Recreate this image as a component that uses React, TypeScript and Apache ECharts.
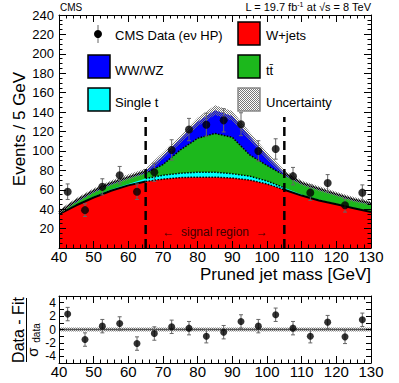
import React, { useEffect, useRef } from "react";
import * as echarts from "echarts";

// ---------- data ----------
const massPoints = [40, 45, 50, 55, 60, 65, 70, 75, 80, 85, 90, 95, 100, 105, 110, 115, 120, 125, 130];
const wjets = [35, 44, 52, 59, 64.5, 68.5, 71, 72.5, 73, 73, 72, 70, 66, 60, 54, 49, 45, 41, 37];
const singleTop = [0.5, 0.8, 1, 1.2, 1.5, 3, 4, 4.5, 5, 5, 4.5, 4, 3, 2, 1, 0.8, 0.6, 0.5, 0.4];
const ttbar = [1, 2.7, 4.5, 5.3, 6, 5.5, 11, 24, 35, 40, 37.5, 22, 16, 13, 11, 10.2, 8.9, 7.5, 7.6];
const diboson = [0.5, 1.5, 1.5, 1.5, 1, 2, 9, 11, 17, 24, 22, 19, 10, 2, 1, 1, 1, 1, 1];
const uncertainty = [2.5, 2.5, 2.5, 2.5, 3, 3, 3.5, 4, 4.5, 5, 5, 4.5, 4, 3, 2.5, 2.5, 2.5, 2.5, 2.5];

const binCenters = [42.5, 47.5, 52.5, 57.5, 62.5, 67.5, 72.5, 77.5, 82.5, 87.5, 92.5, 97.5, 102.5, 107.5, 112.5, 117.5, 122.5, 127.5];
const dataCounts = [58, 39, 63, 75, 58, 78, 101, 122, 127, 131.5, 127.5, 100, 102, 74, 57, 67, 44, 57];
const dataErrors = [8, 6.5, 8.3, 9, 8, 9.3, 10.5, 11.5, 11.8, 12, 11.8, 10.5, 10.5, 9, 8, 8.6, 7, 8];
const pulls = [2.3, -1.5, 0.5, 0.9, -2.1, -0.6, 0.4, 0.2, -1.0, -0.4, 1.2, 0.5, 2.2, 0.2, -1.0, 1.1, -1.1, 1.45];
const pullErrors = [1, 1, 1, 1, 1, 1, 1, 1, 1, 1, 1, 1, 1, 1, 1, 1, 1, 1];
const pullBand = 0.3;

const signalWindow = [65, 105];
const signalLineTop = 135;

const xRange = [40, 130];
const yRangeTop = [0, 240];
const yRangePull = [-5, 5];

// ---------- helpers ----------
const FONT = "'Liberation Sans', Arial, Helvetica, sans-serif";
const RED = "#ff0000";
const GREEN = "#1cb81c";
const BLUE = "#0000ff";
const CYAN = "#00ffff";

function makeHatch(): HTMLCanvasElement {
  const c = document.createElement("canvas");
  c.width = 4;
  c.height = 4;
  const ctx = c.getContext("2d")!;
  ctx.fillStyle = "#777";
  for (let x = 0; x < 4; x++) {
    for (let y = 0; y < 4; y++) {
      if ((x + y) % 2 === 0) ctx.fillRect(x, y, 1, 1);
    }
  }
  return c;
}

export default function App() {
  const ref = useRef<HTMLDivElement>(null);

  useEffect(() => {
    if (!ref.current) return;
    const chart = echarts.init(ref.current, undefined, { renderer: "svg" });
    const hatch = { image: makeHatch(), repeat: "repeat" } as any;

    const redTop = wjets.slice();
    const cyanTop = redTop.map((v, i) => v + singleTop[i]);
    const greenTop = cyanTop.map((v, i) => v + ttbar[i]);
    const total = greenTop.map((v, i) => v + diboson[i]);
    const pts = (arr: number[]) => massPoints.map((x, i) => [x, arr[i]]);
    const inSide = (lo: number, hi: number, arr: number[]) =>
      massPoints.map((x, i) => [x, arr[i]]).filter((p) => p[0] >= lo && p[0] <= hi);

    const areaSeries = (name: string, arr: number[], color: string, z: number) => ({
      type: "line",
      name,
      z,
      xAxisIndex: 0,
      yAxisIndex: 0,
      data: pts(arr),
      showSymbol: false,
      symbol: "none",
      lineStyle: { width: 0 },
      areaStyle: { color, opacity: 1 },
      silent: true,
    });
    const lineSeries = (data: number[][], type: any, width: number, xi = 0, color = "#000", z = 6) => ({
      type: "line",
      z,
      xAxisIndex: xi,
      yAxisIndex: xi,
      data,
      showSymbol: false,
      symbol: "none",
      lineStyle: { color, width, type },
      silent: true,
    });

    const errorBarSeries = (xs: number[], ys: number[], es: number[], gi: number) => ({
      type: "custom",
      z: 9,
      xAxisIndex: gi,
      yAxisIndex: gi,
      data: xs.map((x, i) => [x, ys[i], es[i]]),
      encode: { x: 0, y: 1 },
      silent: true,
      renderItem: (params: any, api: any) => {
        const x = api.value(0);
        const y = api.value(1);
        const e = api.value(2);
        const hi = api.coord([x, y + e]);
        const lo = api.coord([x, y - e]);
        const st = { stroke: "#666", lineWidth: 1 };
        return {
          type: "group",
          children: [
            { type: "line", shape: { x1: hi[0], y1: hi[1], x2: lo[0], y2: lo[1] }, style: st },
            { type: "line", shape: { x1: hi[0] - 2, y1: hi[1], x2: hi[0] + 2, y2: hi[1] }, style: st },
            { type: "line", shape: { x1: lo[0] - 2, y1: lo[1], x2: lo[0] + 2, y2: lo[1] }, style: st },
          ],
        };
      },
    });

    const bandSeries = (upper: number[][], lower: number[][], gi: number) => ({
      type: "custom",
      z: 7,
      xAxisIndex: gi,
      yAxisIndex: gi,
      data: [[upper[0][0], upper[0][1]]],
      encode: { x: 0, y: 1 },
      silent: true,
      renderItem: (params: any, api: any) => {
        const points = upper.map((p) => api.coord(p)).concat(lower.slice().reverse().map((p) => api.coord(p)));
        return { type: "polygon", shape: { points }, style: { fill: hatch, stroke: "none" } };
      },
    });

    const xAxisBase = (gi: number, position: string, showLabel: boolean) => ({
      type: "value",
      gridIndex: gi,
      position,
      min: xRange[0],
      max: xRange[1],
      interval: 10,
      z: 20,
      axisLine: { show: true, onZero: false, lineStyle: { color: "#000", width: 1 } },
      axisTick: { show: true, inside: true, length: 7, lineStyle: { color: "#000" } },
      minorTick: { show: true, splitNumber: 5, length: 3.5, lineStyle: { color: "#000" } },
      splitLine: { show: false },
      axisLabel: { show: showLabel, color: "#000", fontSize: 15, fontFamily: FONT, margin: 1 },
    });
    const yAxisTop = (position: string, showLabel: boolean) => ({
      type: "value",
      gridIndex: 0,
      position,
      min: yRangeTop[0],
      max: yRangeTop[1],
      interval: 20,
      z: 20,
      axisLine: { show: true, onZero: false, lineStyle: { color: "#000", width: 1 } },
      axisTick: { show: true, inside: true, length: 7, lineStyle: { color: "#000" } },
      minorTick: { show: true, splitNumber: 4, length: 3.5, lineStyle: { color: "#000" } },
      splitLine: { show: false },
      axisLabel: {
        show: showLabel,
        color: "#000",
        fontSize: 13,
        fontFamily: FONT,
        margin: 5,
        formatter: (v: number) => (v === 0 ? "" : String(v)),
      },
    });
    const yAxisPull = (position: string, showLabel: boolean) => ({
      type: "value",
      gridIndex: 1,
      position,
      min: yRangePull[0],
      max: yRangePull[1],
      interval: 1,
      z: 20,
      axisLine: { show: true, onZero: false, lineStyle: { color: "#000", width: 1 } },
      axisTick: { show: true, inside: true, length: 5, lineStyle: { color: "#000" } },
      splitLine: { show: false },
      axisLabel: {
        show: showLabel,
        color: "#000",
        fontSize: 12,
        fontFamily: FONT,
        margin: 3,
        formatter: (v: number) => (Math.abs(v) < 5 && v % 2 === 0 ? String(v) : ""),
      },
    });

    const legendBox = (x: number, y: number, fill: any, stroke = "#000") => ({
      type: "rect",
      shape: { x, y, width: 22, height: 23 },
      style: { fill, stroke, lineWidth: 1.5 },
    });
    const legendText = (x: number, y: number, text: string) => ({
      type: "text",
      x,
      y,
      style: { text, fill: "#000", font: `13px ${FONT}`, textAlign: "left", textVerticalAlign: "middle" },
    });

    const option: any = {
      animation: false,
      backgroundColor: "#fff",
      grid: [
        { left: 59, top: 15, width: 312, height: 233 },
        { left: 59, top: 296, width: 312, height: 67 },
      ],
      xAxis: [
        xAxisBase(0, "bottom", true),
        xAxisBase(0, "top", false),
        xAxisBase(1, "bottom", true),
        xAxisBase(1, "top", false),
      ],
      yAxis: [yAxisTop("left", true), yAxisTop("right", false), yAxisPull("left", true), yAxisPull("right", false)],
      series: [
        areaSeries("WW/WZ", total, BLUE, 1),
        areaSeries("tt", greenTop, GREEN, 2),
        areaSeries("Single t", cyanTop, CYAN, 3),
        areaSeries("W+jets", redTop, RED, 4),
        // sideband fit lines
        lineSeries(inSide(xRange[0], signalWindow[0], total), "solid", 2),
        lineSeries(inSide(signalWindow[1], xRange[1], total), "solid", 2),
        lineSeries(inSide(xRange[0], signalWindow[0], redTop), "solid", 2),
        lineSeries(inSide(signalWindow[1], xRange[1], redTop), "solid", 2),
        // signal region boundaries
        lineSeries(inSide(signalWindow[0], signalWindow[1], redTop), "dotted", 1.5),
        lineSeries(inSide(signalWindow[0], signalWindow[1], cyanTop), "dotted", 1.5),
        lineSeries(inSide(signalWindow[0], signalWindow[1], greenTop), "dotted", 1.5),
        // uncertainty band
        bandSeries(
          pts(total.map((v, i) => v + uncertainty[i])),
          pts(total.map((v, i) => v - uncertainty[i])),
          0
        ),
        // signal window dashed lines
        lineSeries([[signalWindow[0], 0], [signalWindow[0], signalLineTop]], [9, 5], 2.5, 0, "#000", 8),
        lineSeries([[signalWindow[1], 0], [signalWindow[1], signalLineTop]], [9, 5], 2.5, 0, "#000", 8),
        errorBarSeries(binCenters, dataCounts, dataErrors, 0),
        {
          type: "scatter",
          z: 10,
          xAxisIndex: 0,
          yAxisIndex: 0,
          data: binCenters.map((x, i) => [x, dataCounts[i]]),
          symbol: "circle",
          symbolSize: 8,
          itemStyle: { color: "#000" },
          silent: true,
        },
        // pull panel
        bandSeries(
          [[xRange[0], pullBand], [xRange[1], pullBand]],
          [[xRange[0], -pullBand], [xRange[1], -pullBand]],
          2
        ),
        lineSeries([[xRange[0], 0], [xRange[1], 0]], "solid", 1.5, 2, "#555", 8),
        errorBarSeries(binCenters, pulls, pullErrors, 2),
        {
          type: "scatter",
          z: 10,
          xAxisIndex: 2,
          yAxisIndex: 2,
          data: binCenters.map((x, i) => [x, pulls[i]]),
          symbol: "circle",
          symbolSize: 7,
          itemStyle: { color: "#000" },
          silent: true,
        },
      ],
      graphic: [
        {
          type: "text",
          x: 60,
          y: 7,
          style: { text: "CMS", fill: "#000", font: `10px ${FONT}`, textAlign: "left", textVerticalAlign: "middle" },
        },
        {
          type: "text",
          x: 371,
          y: 7,
          style: {
            text: "L = 19.7 fb{sup|-1} at √s = 8 TeV",
            fill: "#000",
            font: `11px ${FONT}`,
            textAlign: "right",
            textVerticalAlign: "middle",
            rich: { sup: { fontSize: 7, fontFamily: FONT, padding: [0, 0, 6, 0], fill: "#000" } },
          },
        },
        {
          type: "text",
          x: 19,
          y: 129,
          rotation: Math.PI / 2,
          style: { text: "Events / 5 GeV", fill: "#000", font: `17px ${FONT}`, textAlign: "center", textVerticalAlign: "middle" },
        },
        {
          type: "text",
          x: 371,
          y: 274,
          style: { text: "Pruned jet mass [GeV]", fill: "#000", font: `17px ${FONT}`, textAlign: "right", textVerticalAlign: "middle" },
        },
        {
          type: "text",
          x: 215,
          y: 232,
          z: 100,
          style: { text: "←  signal region  →", fill: "#400000", font: `12px ${FONT}`, textAlign: "center", textVerticalAlign: "middle" },
        },
        // legend
        { type: "line", shape: { x1: 98, y1: 25, x2: 98, y2: 43 }, style: { stroke: "#666", lineWidth: 1 } },
        { type: "circle", shape: { cx: 98, cy: 34, r: 4 }, style: { fill: "#000" } },
        legendText(115, 35, "CMS Data (eν HP)"),
        legendBox(88, 55, BLUE),
        legendText(115, 70, "WW/WZ"),
        legendBox(88, 88, CYAN),
        legendText(115, 102, "Single t"),
        legendBox(238, 22, RED),
        legendText(266, 35, "W+jets"),
        legendBox(238, 55, GREEN),
        legendText(266, 70, "tt\u0304"),
        legendBox(238, 88, hatch, "#888"),
        legendText(266, 102, "Uncertainty"),
        // pull title
        {
          type: "text",
          x: 18,
          y: 330,
          rotation: Math.PI / 2,
          style: { text: "Data - Fit", fill: "#000", font: `16px ${FONT}`, textAlign: "center", textVerticalAlign: "middle" },
        },
        { type: "line", shape: { x1: 26.5, y1: 298, x2: 26.5, y2: 362 }, style: { stroke: "#000", lineWidth: 1 } },
        {
          type: "text",
          x: 32,
          y: 352,
          rotation: Math.PI / 2,
          style: { text: "σ", fill: "#000", font: `15px ${FONT}`, textAlign: "center", textVerticalAlign: "middle" },
        },
        {
          type: "text",
          x: 36,
          y: 333,
          rotation: Math.PI / 2,
          style: { text: "data", fill: "#000", font: `10px ${FONT}`, textAlign: "center", textVerticalAlign: "middle" },
        },
      ],
    };

    chart.setOption(option);
    return () => chart.dispose();
  }, []);

  return (
    <div
      ref={ref}
      style={{ position: "fixed", left: 0, top: 0, width: 399, height: 383, background: "#fff" }}
    />
  );
}
